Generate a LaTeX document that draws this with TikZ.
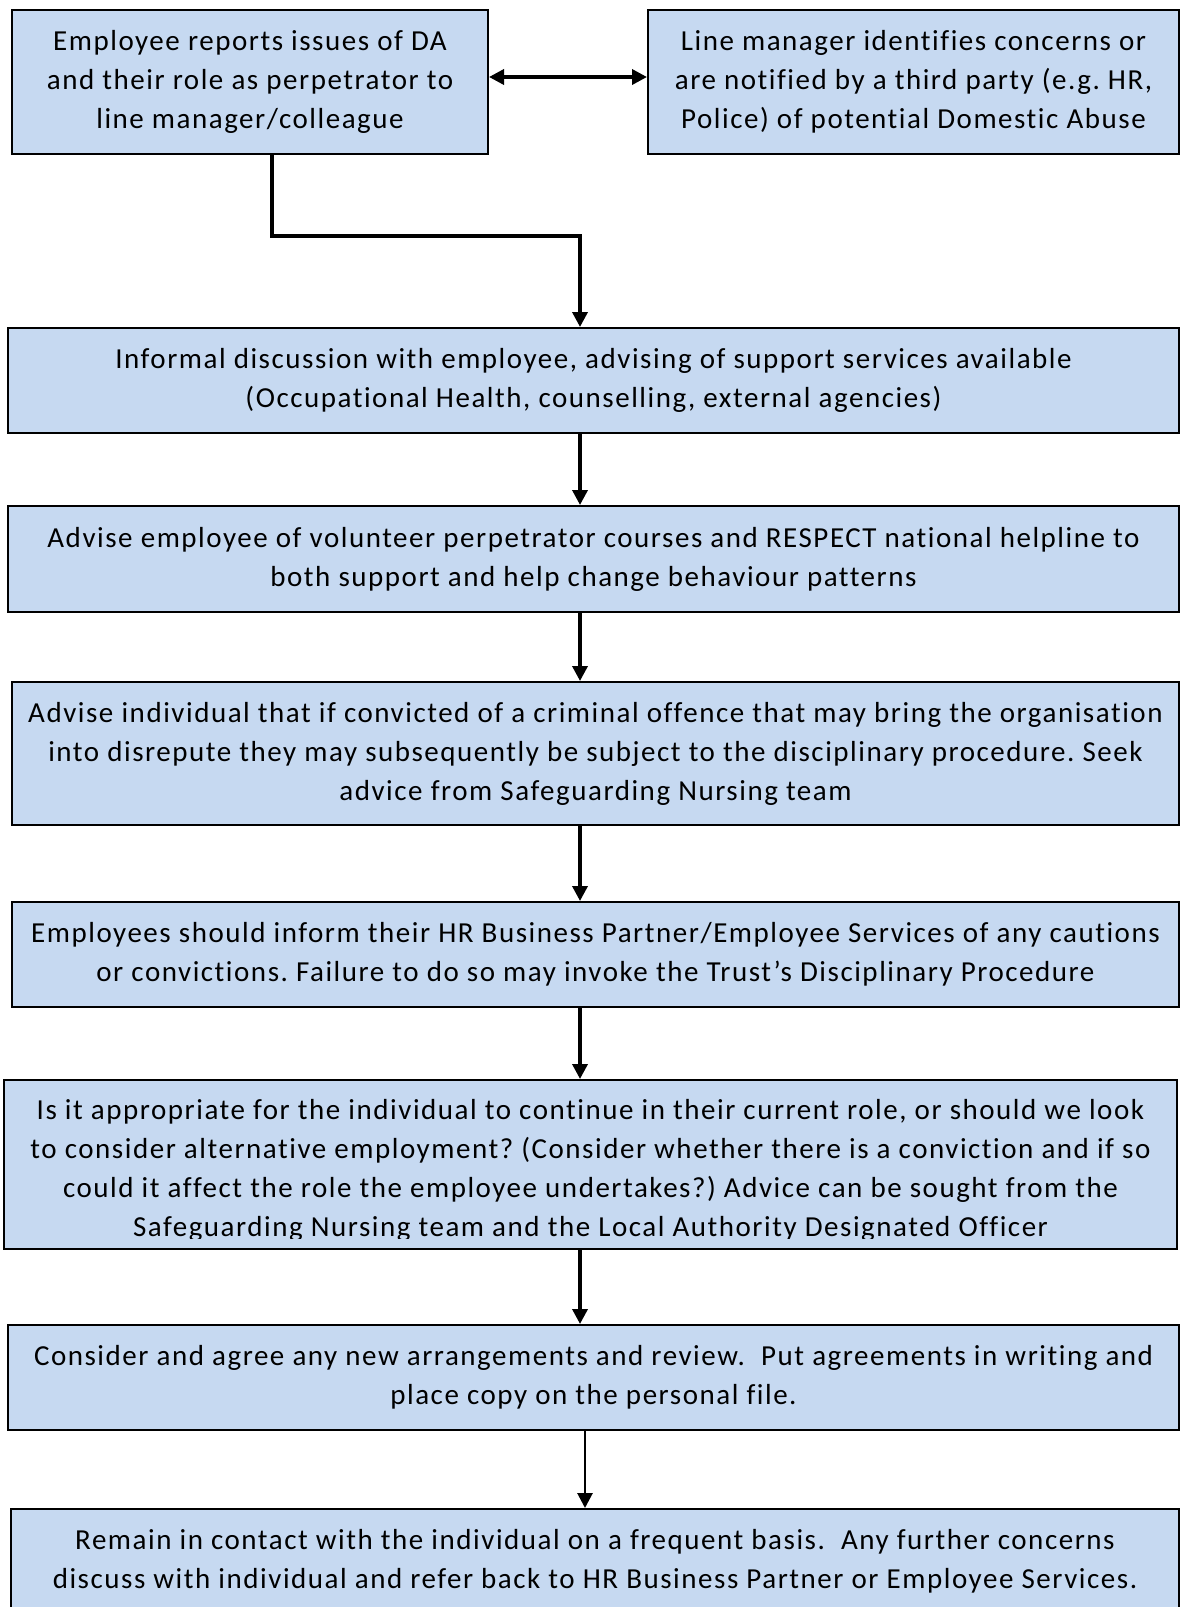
\documentclass[tikz,border=0pt]{standalone}
\usepackage{fontspec}
\setmainfont{Carlito}[LetterSpace=5.3,Ligatures={NoCommon}]
\usetikzlibrary{arrows.meta}
\definecolor{boxblue}{RGB}{198,217,241}
\frenchspacing
\begin{document}
\begin{tikzpicture}[x=1pt,y=-1pt,
  flowbox/.style={draw=black, fill=boxblue, line width=2pt, inner sep=0pt, align=center,
    font=\fontsize{29}{39}\selectfont\frenchspacing},
  flowtext/.style={inner sep=0pt, align=center, font=\fontsize{29}{39}\selectfont\frenchspacing},
  conn/.style={line width=3.5pt, -{Triangle[width=15pt,length=15pt]}},
  dconn/.style={line width=3.5pt, {Triangle[width=15pt,length=15pt]}-{Triangle[width=15pt,length=15pt]}}]
\useasboundingbox (0,0) rectangle (1181,1607);
\coordinate (sp) at (580,0);
\coordinate (sp2) at (585,0);

\node[flowbox, minimum width=476pt, minimum height=144pt] (b1) at (250,82)
  {Employee reports issues of DA\\and their role as perpetrator to\\line manager/colleague};
\node[flowbox, minimum width=531pt, minimum height=144pt] (b2) at (913.5,82)
  {Line manager identifies concerns or\\are notified by a third party (e.g. HR,\\Police) of potential Domestic Abuse};
\node[flowbox, minimum width=1171pt, minimum height=105pt] (b3) at (593.5,380.5)
  {Informal discussion with employee, advising of support services available\\(Occupational Health, counselling, external agencies)};
\node[flowbox, minimum width=1171pt, minimum height=106pt] (b4) at (593.5,559)
  {Advise employee of volunteer perpetrator courses and RESPECT national helpline to\\both support and help change behaviour patterns};
\node[flowbox, minimum width=1167pt, minimum height=143pt] (b5) at (595.5,753.5)
  {Advise individual that if convicted of a criminal offence that may bring the organisation\\into disrepute they may subsequently be subject to the disciplinary procedure. Seek\\advice from Safeguarding Nursing team};
\node[flowbox, minimum width=1167pt, minimum height=105pt] (b6) at (595.5,954.5)
  {Employees should inform their HR Business Partner/Employee Services of any cautions\\or convictions. Failure to do so may invoke the Trust’s Disciplinary Procedure};
\node[flowbox, minimum width=1173pt, minimum height=169pt] (b7) at (590.5,1164.5) {};
\begin{scope}
  \clip (0,1082) rectangle (1181,1238);
  \node[flowtext] (b7t) at (590.5,1170.5)
    {Is it appropriate for the individual to continue in their current role, or should we look\\to consider alternative employment? (Consider whether there is a conviction and if so\\could it affect the role the employee undertakes?) Advice can be sought from the\\Safeguarding Nursing team and the Local Authority Designated Officer};
\end{scope}
\node[flowbox, minimum width=1171pt, minimum height=105pt] (b8) at (593.5,1377.5)
  {Consider and agree any new arrangements and review.\ \ Put agreements in writing and\\place copy on the personal file.};
\node[flowbox, minimum width=1168pt, minimum height=131pt] (b9) at (595,1574.5) {};
\node[flowtext] (b9t) at (595,1561)
  {Remain in contact with the individual on a frequent basis.\ \ Any further concerns\\discuss with individual and refer back to HR Business Partner or Employee Services.};

\draw[dconn] ([yshift=5pt]b1.east) -- ([yshift=5pt]b2.west);
\draw[conn] ([xshift=22pt]b1.south) |- (272,236) -| (b3.north -| sp);
\draw[conn] (b3.south -| sp) -- (b4.north -| sp);
\draw[conn] (b4.south -| sp) -- (b5.north -| sp);
\draw[conn] (b5.south -| sp) -- (b6.north -| sp);
\draw[conn] (b6.south -| sp) -- (b7.north -| sp);
\draw[conn] (b7.south -| sp) -- (b8.north -| sp);
\draw[conn, line width=2.8pt] (b8.south -| sp2) -- (b9.north -| sp2);
\end{tikzpicture}
\end{document}
